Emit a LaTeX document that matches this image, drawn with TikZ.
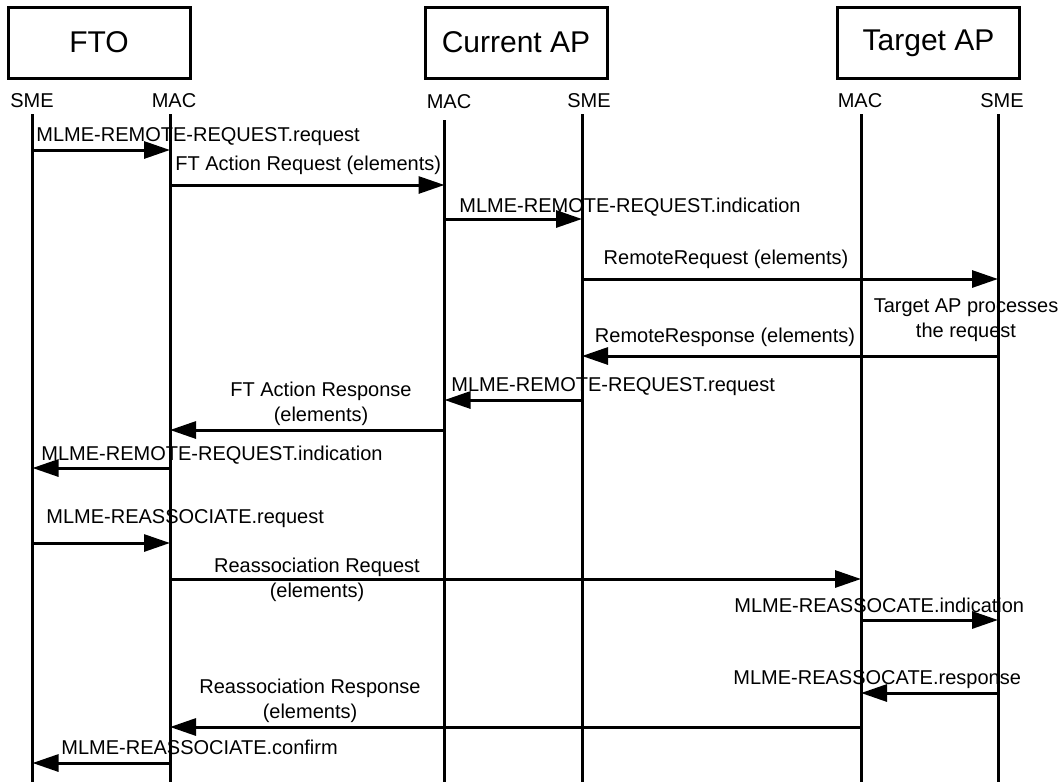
\documentclass[tikz,border=0pt]{standalone}
\usepackage{fontspec}
\setmainfont{Liberation Sans}
\usetikzlibrary{arrows.meta, positioning, calc}

\begin{document}
\begin{tikzpicture}[
  x=0.5pt, y=-0.5pt,
  entity/.style={draw, line width=1.5pt, minimum width=91pt, minimum height=35.5pt,
               inner sep=0pt, font=\fontsize{15}{18}\selectfont},
  layerlabel/.style={inner sep=0pt, font=\fontsize{10}{12}\selectfont},
  msglabel/.style={inner sep=0pt, align=center, font=\fontsize{10}{12.5}\selectfont},
  lifeline/.style={line width=1.5pt},
  msg/.style={-{Triangle[length=13pt, width=8.5pt]}, line width=1.5pt}
]
  \useasboundingbox (0,0) rectangle (1063,782);

  \node[entity] (fto) at (99,42.5) {FTO};
  \node[entity] (curap) at (516,42.5) {Current AP};
  \node[entity] (tgtap) at (928.5,43) {Target AP};

  \node[layerlabel] (ftosmelbl) at (32,101) {SME};
  \node[layerlabel] (ftomaclbl) at (174,101) {MAC};
  \node[layerlabel] (curmaclbl) at (449,102) {MAC};
  \node[layerlabel] (cursmelbl) at (589,101) {SME};
  \node[layerlabel] (tgtmaclbl) at (860,101) {MAC};
  \node[layerlabel] (tgtsmelbl) at (1002,101) {SME};

  \coordinate (fsme) at (32.5,114);
  \coordinate (fmac) at (170,114);
  \coordinate (cmac) at (444.5,120);
  \coordinate (csme) at (582,114);
  \coordinate (tmac) at (861,114);
  \coordinate (tsme) at (998,114);
  \coordinate (bottom) at (0,782);

  \draw[lifeline] (fsme) -- (fsme |- bottom);
  \draw[lifeline] (fmac) -- (fmac |- bottom);
  \draw[lifeline] (cmac) -- (cmac |- bottom);
  \draw[lifeline] (csme) -- (csme |- bottom);
  \draw[lifeline] (tmac) -- (tmac |- bottom);
  \draw[lifeline] (tsme) -- (tsme |- bottom);

  \coordinate (r1) at (0,150);
  \coordinate (r2) at (0,185);
  \coordinate (r3) at (0,219);
  \coordinate (r4) at (0,279);
  \coordinate (r5) at (0,356);
  \coordinate (r6) at (0,400);
  \coordinate (r7) at (0,430);
  \coordinate (r8) at (0,468);
  \coordinate (r9) at (0,543);
  \coordinate (r10) at (0,579);
  \coordinate (r11) at (0,620);
  \coordinate (r12) at (0,693);
  \coordinate (r13) at (0,727);
  \coordinate (r14) at (0,763);

  \node[msglabel, anchor=base west] (t1) at (36,141) {MLME-REMOTE-REQUEST.request};
  \node[msglabel, anchor=base west] (t2) at (175,170) {FT Action Request (elements)};
  \node[msglabel, anchor=base west] (t3) at (459,212) {MLME-REMOTE-REQUEST.indication};
  \node[msglabel, anchor=base] (t4) at (726,264) {RemoteRequest (elements)};
  \node[msglabel] (proc) at (966,320.5) {Target AP processes\\the request};
  \node[msglabel, anchor=base] (t5) at (725,342) {RemoteResponse (elements)};
  \node[msglabel, anchor=base west] (t6) at (451,391) {MLME-REMOTE-REQUEST.request};
  \node[msglabel] (t7) at (321,404) {FT Action Response\\(elements)};
  \node[msglabel, anchor=base west] (t8) at (41,460) {MLME-REMOTE-REQUEST.indication};
  \node[msglabel, anchor=base west] (t9) at (46,523) {MLME-REASSOCIATE.request};
  \node[msglabel] (t10) at (317,580) {Reassociation Request\\(elements)};
  \node[msglabel, anchor=base west] (t11) at (734,612) {MLME-REASSOCATE.indication};
  \node[msglabel, anchor=base west] (t12) at (733,684) {MLME-REASSOCATE.response};
  \node[msglabel] (t13) at (310,701) {Reassociation Response\\(elements)};
  \node[msglabel, anchor=base west] (t14) at (61,754) {MLME-REASSOCIATE.confirm};

  \draw[msg] (fsme |- r1) -- (fmac |- r1);
  \draw[msg] (fmac |- r2) -- (cmac |- r2);
  \draw[msg] (cmac |- r3) -- (csme |- r3);
  \draw[msg] (csme |- r4) -- (tsme |- r4);
  \draw[msg] (tsme |- r5) -- (csme |- r5);
  \draw[msg] (csme |- r6) -- (cmac |- r6);
  \draw[msg] (cmac |- r7) -- (fmac |- r7);
  \draw[msg] (fmac |- r8) -- (fsme |- r8);
  \draw[msg] (fsme |- r9) -- (fmac |- r9);
  \draw[msg] (fmac |- r10) -- (tmac |- r10);
  \draw[msg] (tmac |- r11) -- (tsme |- r11);
  \draw[msg] (tsme |- r12) -- (tmac |- r12);
  \draw[msg] (tmac |- r13) -- (fmac |- r13);
  \draw[msg] (fmac |- r14) -- (fsme |- r14);
\end{tikzpicture}
\end{document}
